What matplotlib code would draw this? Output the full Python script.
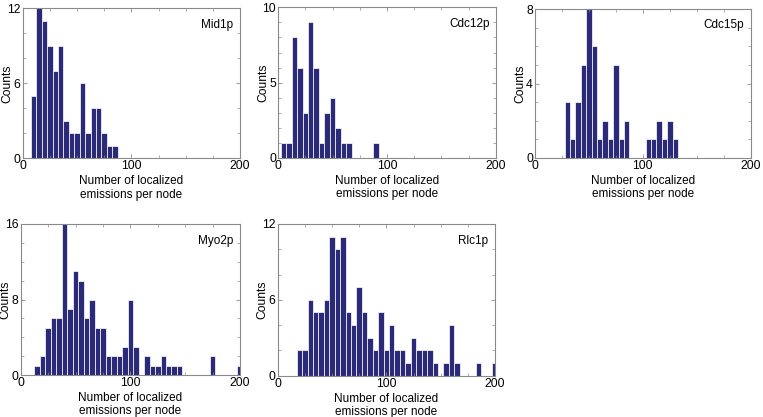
import numpy as np
import matplotlib
matplotlib.use('Agg')
import matplotlib.pyplot as plt

plt.rcParams['font.family'] = ['Liberation Sans', 'DejaVu Sans']

# 各蛋白的直方图数据 (bin 宽度 5，中心为 5 的倍数)
names = ['Mid1p', 'Cdc12p', 'Cdc15p', 'Myo2p', 'Rlc1p']
first_center = [10, 5, 30, 15, 20]

mid1p = [5, 12, 11, 9, 7, 9, 3, 2, 2, 6, 2, 4, 4, 2, 1, 1]
cdc12p = [1, 1, 8, 6, 3, 9, 6, 1, 3, 4, 2, 1, 1, 0, 0, 0, 0, 1]
cdc15p = [3, 1, 3, 5, 8, 6, 1, 2, 1, 5, 1, 2, 0, 0, 0, 1, 1, 2, 1, 2, 1]
myo2p = [1, 2, 5, 6, 6, 16, 7, 11, 10, 6, 8, 5, 5, 2, 2, 2, 3, 8, 3, 0,
         2, 1, 1, 2, 1, 1, 1, 0, 0, 0, 0, 0, 2, 0, 0, 0, 0, 1]
rlc1p = [2, 2, 6, 5, 5, 6, 11, 10, 11, 5, 4, 7, 5, 3, 2, 5, 2, 4, 2, 2,
         1, 3, 2, 2, 2, 1, 0, 1, 4, 1, 0, 0, 0, 1, 0, 0, 1]
counts = [mid1p, cdc12p, cdc15p, myo2p, rlc1p]

# y 轴范围与刻度
y_max = [12, 10, 8, 16, 12]
y_major = [6, 5, 4, 8, 6]
y_minor = [2, 1, 1, 2, 2]

x_ticks = [0, 100, 200]
bin_width = 5

# 各子图位置 (像素: 左, 右, 上, 下)
W, H = 763, 417
rects_px = [
    (22.7, 240, 8.3, 158.3),
    (278, 496, 7.3, 158),
    (535, 750.7, 9, 158),
    (20.7, 240, 224, 375),
    (277.7, 495, 224, 375.7),
]

bar_color = '#2b2a78'
grey = '#8a8a8a'

fig = plt.figure(figsize=(W / 100, H / 100), dpi=100)

for i, name in enumerate(names):
    l, r, t, b = rects_px[i]
    ax = fig.add_axes([l / W, (H - b) / H, (r - l) / W, (b - t) / H])
    c = np.array(counts[i])
    centers = first_center[i] + bin_width * np.arange(len(c))
    ax.bar(centers, c, width=bin_width, color=bar_color,
           edgecolor='white', linewidth=0.5)

    ax.set_xlim(0, 200)
    ax.set_ylim(0, y_max[i])
    ax.set_xticks(x_ticks)
    ax.set_xticks(np.arange(0, 201, 25), minor=True)
    ax.set_yticks(np.arange(0, y_max[i] + 1, y_major[i]))
    ax.set_yticks(np.arange(0, y_max[i] + 1, y_minor[i]), minor=True)

    ax.tick_params(which='both', direction='in', top=True, right=True,
                   color=grey, labelsize=8.7, pad=1.5)
    ax.tick_params(which='major', length=3, width=0.6)
    ax.tick_params(which='minor', length=2, width=0.5)
    for s in ax.spines.values():
        s.set_color(grey)
        s.set_linewidth(0.8)

    ax.set_ylabel('Counts', fontsize=8.7)
    ax.yaxis.set_label_coords(-9 / (r - l), 0.5)
    ax.set_xlabel('Number of localized\nemissions per node', fontsize=8.5,
                  labelpad=2, linespacing=1.15)
    ax.text(0.97, 0.93, name, transform=ax.transAxes, ha='right', va='top',
            fontsize=8.5)

fig.savefig('out.png', dpi=100)
